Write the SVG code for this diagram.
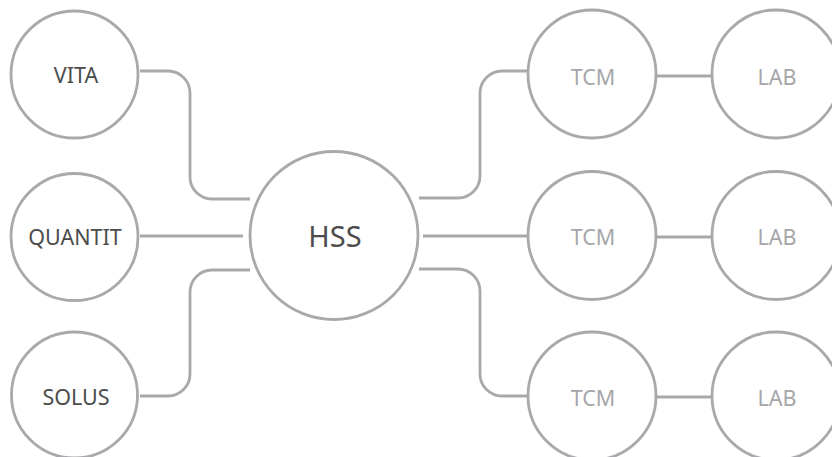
<svg xmlns="http://www.w3.org/2000/svg" width="832" height="457" viewBox="0 0 832 457">
<style>
.n{fill:#ffffff;stroke:#a9a9ac;stroke-width:2.8}
.c{fill:none;stroke:#a9a9ac;stroke-width:2.8}
.t{font-family:"Noto Sans","DejaVu Sans",sans-serif;font-size:21.5px;text-anchor:middle;fill:#4c4c4c}
.tl{fill:#a6a6a9}
.big{font-size:29px}
</style>
<rect width="832" height="457" fill="#ffffff"/>
<g id="connectors">
<path class="c" d="M140,71 H168 A22,22 0 0 1 190,93 V177 A22,22 0 0 0 212,199 H250"/>
<path class="c" d="M140,236 H243"/>
<path class="c" d="M140,396 H168 A22,22 0 0 0 190,374 V292 A22,22 0 0 1 212,270 H250"/>
<path class="c" d="M419,198 H458 A22,22 0 0 0 480,176 V93 A22,22 0 0 1 502,71 H528"/>
<path class="c" d="M423,236 H528"/>
<path class="c" d="M419,269 H458 A22,22 0 0 1 480,291 V374 A22,22 0 0 0 502,396 H528"/>
<path class="c" d="M656,76 H712"/>
<path class="c" d="M656,237 H712"/>
<path class="c" d="M656,397 H712"/>
</g>
<g id="vita"><circle class="n" cx="74.5" cy="74.5" r="63.5"/><text class="t" x="76" y="82.5">VITA</text></g>
<g id="quantit"><circle class="n" cx="74.5" cy="237" r="63.5"/><text class="t" x="75" y="245">QUANTIT</text></g>
<g id="solus"><circle class="n" cx="74.5" cy="395" r="63"/><text class="t" x="76" y="404.5">SOLUS</text></g>
<g id="hss"><circle class="n" cx="334" cy="235.5" r="84"/><text class="t big" x="335" y="247">HSS</text></g>
<g id="tcm1"><circle class="n" cx="592" cy="74" r="64"/><text class="t tl" x="593" y="85">TCM</text></g>
<g id="lab1"><circle class="n" cx="776" cy="74" r="64"/><text class="t tl" x="777" y="85">LAB</text></g>
<g id="tcm2"><circle class="n" cx="592" cy="235.5" r="64"/><text class="t tl" x="593" y="245">TCM</text></g>
<g id="lab2"><circle class="n" cx="776" cy="235.5" r="64"/><text class="t tl" x="777" y="245">LAB</text></g>
<g id="tcm3"><circle class="n" cx="592" cy="396" r="64"/><text class="t tl" x="593" y="406">TCM</text></g>
<g id="lab3"><circle class="n" cx="776" cy="396" r="64"/><text class="t tl" x="777" y="406">LAB</text></g>
</svg>
